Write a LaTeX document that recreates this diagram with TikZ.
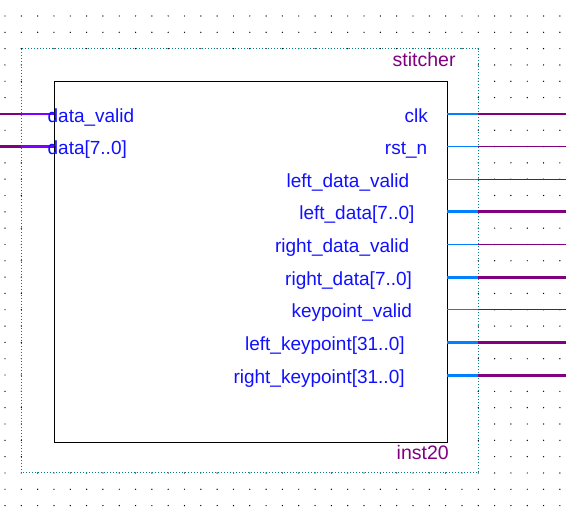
\documentclass[tikz,border=0pt]{standalone}
\usepackage{fontspec}
\setmainfont{Liberation Sans}
\usepackage{xcolor}
\usepackage{tikz}
\usetikzlibrary{positioning}

\definecolor{wirepurple}{HTML}{800080}
\definecolor{wireviolet}{HTML}{8000FF}
\definecolor{wireblue}{HTML}{0080FF}
\definecolor{portblue}{HTML}{1010FF}
\definecolor{frameteal}{HTML}{008080}

\begin{document}
\begin{tikzpicture}[
    x=16.32pt, y=-16.32pt,
    port/.style={inner sep=0pt, text=portblue, font=\fontsize{19}{22}\selectfont},
    portin/.style={port, anchor=base west},
    portout/.style={port, anchor=base east},
    tag/.style={inner sep=0pt, text=wirepurple, font=\fontsize{19.5}{22}\selectfont, anchor=base east},
    symbol/.style={draw=black, line width=1.1pt, inner sep=0pt, anchor=north west},
    wire/.style={line width=1.2pt},
    bus/.style={line width=3pt}
]
\useasboundingbox (-0.306,-0.98) rectangle (34.375,30.147);

% Background grid
\foreach \i in {0,...,34} {
  \foreach \j in {0,...,30} {
    \pgfmathtruncatemacro\inside{(\i>1)&&(\i<29)&&(\j>2)&&(\j<28)}
    \ifnum\inside=0
      \fill (\i,\j) circle[radius=0.7pt];
    \fi
  }
}

% Instance frame
\draw[frameteal, line width=1pt, dash pattern=on 1pt off 2pt] (1,2) rectangle (29,28);
\node[tag] (name) at (27.62,3.1) {stitcher};
\node[tag] (instance) at (27.2,27.2) {inst20};

% Symbol body
\node[symbol, minimum width=393.3pt, minimum height=360.7pt] (stitcher) at (3,4) {};

% Input pins
\coordinate (data_valid_a) at (3,6);  \coordinate (data_valid_b) at (1,6);  \coordinate (data_valid_c) at (-0.4,6);
\coordinate (data_a) at (3,8);        \coordinate (data_b) at (1,8);        \coordinate (data_c) at (-0.4,8);
\draw[wire, wireviolet] (data_valid_a) -- (data_valid_b);
\draw[wire, wirepurple] (data_valid_b) -- (data_valid_c);
\draw[bus, wireviolet] (data_a) -- (data_b);
\draw[bus, wirepurple] (data_b) -- (data_c);

% Output pins
\coordinate (clk_a) at (27.1,6);                \coordinate (clk_b) at (29,6);                \coordinate (clk_c) at (34.5,6);
\coordinate (rst_n_a) at (27.1,8);              \coordinate (rst_n_b) at (29,8);              \coordinate (rst_n_c) at (34.5,8);
\coordinate (left_data_valid_a) at (27.1,10);   \coordinate (left_data_valid_b) at (29,10);   \coordinate (left_data_valid_c) at (34.5,10);
\coordinate (left_data_a) at (27.1,12);         \coordinate (left_data_b) at (29,12);         \coordinate (left_data_c) at (34.5,12);
\coordinate (right_data_valid_a) at (27.1,14);  \coordinate (right_data_valid_b) at (29,14);  \coordinate (right_data_valid_c) at (34.5,14);
\coordinate (right_data_a) at (27.1,16);        \coordinate (right_data_b) at (29,16);        \coordinate (right_data_c) at (34.5,16);
\coordinate (keypoint_valid_a) at (27.1,18);    \coordinate (keypoint_valid_b) at (29,18);    \coordinate (keypoint_valid_c) at (34.5,18);
\coordinate (left_keypoint_a) at (27.1,20);     \coordinate (left_keypoint_b) at (29,20);     \coordinate (left_keypoint_c) at (34.5,20);
\coordinate (right_keypoint_a) at (27.1,22);    \coordinate (right_keypoint_b) at (29,22);    \coordinate (right_keypoint_c) at (34.5,22);

\draw[wire, wireblue] (clk_a) -- (clk_b);
\draw[wire, wirepurple] (clk_b) -- (clk_c);
\draw[wire, wireblue] (rst_n_a) -- (rst_n_b);
\draw[wire, wirepurple] (rst_n_b) -- (rst_n_c);
\draw[wire, wireblue] (left_data_valid_a) -- (left_data_valid_b);
\draw[wire, wirepurple] (left_data_valid_b) -- (left_data_valid_c);
\draw[bus, wireblue] (left_data_a) -- (left_data_b);
\draw[bus, wirepurple] (left_data_b) -- (left_data_c);
\draw[wire, wireblue] (right_data_valid_a) -- (right_data_valid_b);
\draw[wire, wirepurple] (right_data_valid_b) -- (right_data_valid_c);
\draw[bus, wireblue] (right_data_a) -- (right_data_b);
\draw[bus, wirepurple] (right_data_b) -- (right_data_c);
\draw[wire, wireblue] (keypoint_valid_a) -- (keypoint_valid_b);
\draw[wire, wirepurple] (keypoint_valid_b) -- (keypoint_valid_c);
\draw[bus, wireblue] (left_keypoint_a) -- (left_keypoint_b);
\draw[bus, wirepurple] (left_keypoint_b) -- (left_keypoint_c);
\draw[bus, wireblue] (right_keypoint_a) -- (right_keypoint_b);
\draw[bus, wirepurple] (right_keypoint_b) -- (right_keypoint_c);

% Port names
\node[portin] (data_valid) at (2.60,6.5) {data\_valid};
\node[portin] (data) at (2.60,8.5) {data[7..0]};
\node[portout] (clk) at (25.92,6.5) {clk};
\node[portout] (rst_n) at (25.88,8.5) {rst\_n};
\node[portout] (left_data_valid) at (24.78,10.5) {left\_data\_valid};
\node[portout] (left_data) at (25.10,12.5) {left\_data[7..0]};
\node[portout] (right_data_valid) at (24.78,14.5) {right\_data\_valid};
\node[portout] (right_data) at (24.95,16.5) {right\_data[7..0]};
\node[portout] (keypoint_valid) at (24.95,18.5) {keypoint\_valid};
\node[portout] (left_keypoint) at (24.50,20.5) {left\_keypoint[31..0]};
\node[portout] (right_keypoint) at (24.50,22.5) {right\_keypoint[31..0]};

\end{tikzpicture}
\end{document}
